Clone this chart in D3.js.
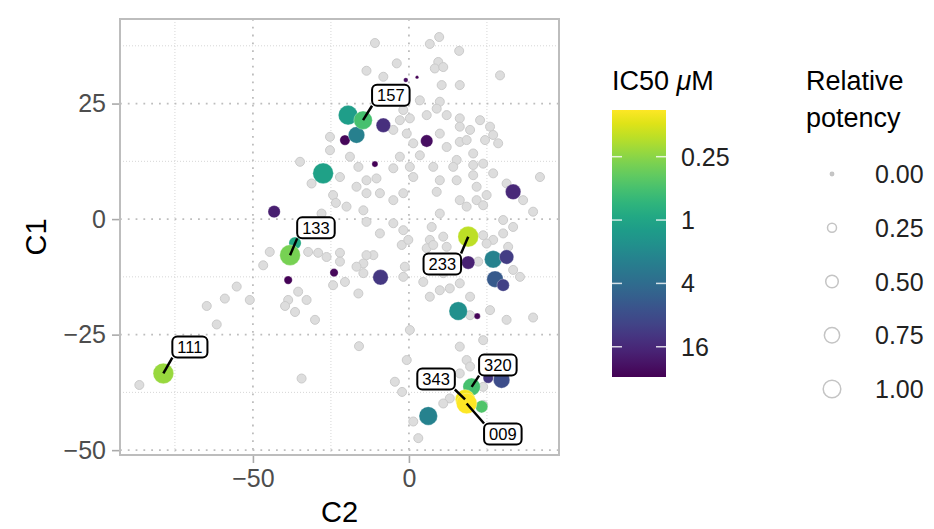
<!DOCTYPE html>
<meta charset="utf-8">
<style>
  body { margin: 0; background: #fff; }
  svg { font-family: "Liberation Sans", Arial, sans-serif; }
</style>
<body>
<script src="https://cdn.jsdelivr.net/npm/d3@7"></script>
<script>
const width = 934, height = 529;
const panel = {left: 120, right: 559, top: 19, bottom: 455};

// compounds without IC50 (drawn grey): C2 / C1
const greyC2 = [-10.9, 9.7, 6.7, 16.1, -3.9, -13.6, 9.4, 8.3, 11.0, -8.2, 10.5, 16.3, 29.2, 3.5, 9.9, 8.9, -1.8, 0.3, -2.9, 5.7,
  12.1, 16.3, 16.3, 22.8, 19.6, 26.0, 27.0, 24.4, 28.6, -5.0, -0.7, 1.4, 9.9, 12.1, 16.3, 18.5, 20.6, 15.3, 3.5, 0.3,
  -2.9, -5.0, 7.8, 14.2, 20.6, 23.8, 27.0, 1.4, 9.9, 15.3, 20.6, 21.7, 8.9, 16.3, 18.5, 21.7, 23.8, 24.9, 42.0, 31.3,
  36.6, 39.8, -9.3, -5.0, -1.8, -10.4, -13.6, -13.6, -5.0, -1.8, -9.3, 9.9, 7.3, 6.7, 11.0, 30.2, 30.2, 33.4, 23.8, 27.0,
  -14.6, -25.3, -25.3, -34.9, -18.9, -31.2, -22.1, -16.2, -16.8, -24.3, -23.4, -20.0, -28.0, -13.6, -11.4, -14.6, -2.3, -0.2, 5.7, 7.8,
  12.1, 24.9, 31.8, 22.2, 35.6, 33.4, 11.0, 4.6, 9.9, 6.7, -1.3, -1.8, 13.1, 19.6, 16.3, 26.0, 31.3, 39.8, 19.6, 23.8,
  16.3, 18.5, 19.6, -0.7, -4.5, 16.3, 13.1, 11.0, 1.4, 3.0, 23.8, 23.8, -16.0, -44.6, -46.7, -32.3, -29.1, -26.4, -22.1, -22.1,
  -20.5, -24.3, -16.8, -14.6, -13.6, -16.2, -55.2, -59.0, -64.8, -61.6, -51.0, -35.5, -32.8, -38.7, -39.7, -36.5, -30.1, -34.4, -86.4, 0.3,
  -2.2];
const greyC1 = [38.1, 39.4, 37.9, 36.4, 33.7, 32.1, 34.0, 32.6, 32.9, 30.8, 29.0, 29.0, 31.1, 25.7, 25.4, 23.9, 23.6, 21.8, 21.4, 22.5,
  22.5, 21.8, 20.0, 21.4, 19.3, 20.0, 18.2, 17.1, 16.4, 19.3, 18.5, 16.4, 18.5, 15.6, 16.7, 17.1, 14.2, 12.8, 13.8, 11.3,
  13.5, 11.0, 11.3, 11.3, 11.7, 12.0, 9.9, 9.1, 8.4, 8.4, 9.5, 7.0, 5.9, 4.1, 2.7, 4.1, 3.0, 5.2, 9.1, 7.7,
  4.1, 1.6, 5.6, 4.1, 5.6, 8.8, 8.4, 5.6, -0.9, -2.4, -3.1, 1.2, -1.7, -4.5, -3.8, -0.2, -3.1, -1.7, -3.5, -4.5,
  1.9, 17.8, 14.9, 12.4, 13.5, 7.7, 9.1, 11.3, 7.0, 5.2, 3.5, 2.7, 1.2, -0.6, -7.8, -9.6, -5.6, -4.5, -6.3, -5.6,
  -6.0, -5.3, -6.0, -9.2, -12.5, -11.0, -11.7, -13.6, -15.4, -16.8, -10.3, -12.5, -15.0, -16.8, -13.9, -19.7, -21.8, -21.3, -20.8, -26.2,
  -27.6, -30.5, -31.9, -30.5, -35.2, -33.4, -38.8, -39.9, -43.8, -47.4, -36.3, -40.2, -27.5, -7.1, -10.0, -7.1, -7.3, -8.2, -7.3, -9.2,
  -13.6, -14.3, -10.3, -11.7, -7.8, -16.1, -14.6, -17.2, -18.8, -22.8, -17.5, -15.7, -17.5, -17.5, -18.8, -20.1, -21.8, -34.5, -35.9, -24.0,
  -37.4];

// compounds with measured IC50
const hitLabel = ["", "", "", "", "", "", "", "", "", "", "", "", "", "", "", "", "", "", "", "", "", "", "", "", "", "",
  "157", "133", "111", "233", "320", "343", "009"];
const hitC2 = [-20.5, -19.5, -16.8, -8.2, 5.7, -10.9, -1.0, 2.6, -27.5, -43.2, 33.4, -36.5, -38.7, -24.0, 19.0, 27.0, 31.3, 27.6, 30.2, -9.1, 15.8, 21.9, 29.7, 25.4, 23.3, 6.2,
  -14.7, -38.1, -78.7, 19.0, 20.1, 18.0, 18.5];
const hitC1 = [17.1, 22.5, 18.2, 20.3, 16.9, 11.9, 30.1, 30.7, 9.9, 1.6, 5.9, -5.2, -13.2, -11.6, -9.4, -8.7, -8.2, -13.0, -14.3, -12.6, -19.9, -21.0, -34.8, -34.4, -40.6, -42.6,
  21.4, -7.8, -33.4, -3.8, -36.3, -39.0, -39.9];
const hitIC50 = [28, 1.2, 2.5, 14, 25, 30, 25, 31, 1.1, 19, 16, 0.9, 30, 28, 18, 2.3, 11, 6, 10, 12, 1.7, 30, 8, 12, 0.45, 2.3,
  0.5, 0.3, 0.22, 0.16, 0.5, 0.1, 0.09];
const hitPotency = [0.16, 0.88, 0.58, 0.41, 0.27, 0.025, 0.005, 0, 1.0, 0.27, 0.49, 0.27, 0.08, 0.08, 0.33, 0.67, 0.41, 0.58, 0.27, 0.49, 0.77, 0.025, 0.58, 0.16, 0.27, 0.77,
  0.77, 1.0, 1.0, 1.0, 0.67, 0.88, 1.0];

// label box centres (C2 / C1)
const labelText = ["157", "133", "111", "233", "320", "343", "009"];
const labelC2 = [-5.8, -29.8, -70.2, 10.7, 28.5, 8.7, 30.1];
const labelC1 = [26.8, -1.9, -27.7, -9.7, -31.6, -34.6, -46.5];

const xTicks = [-50, 0];
const xMinor = [-75, -25, 25];
const yTicks = [-50, -25, 0, 25];
const yMinor = [-37.5, -12.5, 12.5, 37.5];
const colorTicks = [0.25, 1, 4, 16];
const colorTickLabels = ["0.25", "1", "4", "16"];
const sizeBreaks = [0, 0.25, 0.5, 0.75, 1];
const sizeLabels = ["0.00", "0.25", "0.50", "0.75", "1.00"];

const svg = d3.select("body").append("svg")
  .attr("width", width)
  .attr("height", height);

const x = d3.scaleLinear().domain([-92.6, 48.1]).range([panel.left, panel.right]);
const y = d3.scaleLinear().domain([-51.05, 43.3]).range([panel.bottom, panel.top]);
const color = d3.scaleSequentialLog(t => d3.interpolateViridis(1 - t)).domain([0.09, 31]);
const size = d3.scaleSqrt().domain([0, 1]).range([1.7, 10.3]);

// grid
const grid = svg.append("g");
grid.selectAll(".xmin").data(xMinor).enter().append("line")
  .attr("x1", d => x(d)).attr("x2", d => x(d))
  .attr("y1", panel.top).attr("y2", panel.bottom)
  .attr("stroke", "#d6d6d6").attr("stroke-width", 1).attr("stroke-dasharray", "1,2");
grid.selectAll(".ymin").data(yMinor).enter().append("line")
  .attr("y1", d => y(d)).attr("y2", d => y(d))
  .attr("x1", panel.left).attr("x2", panel.right)
  .attr("stroke", "#d6d6d6").attr("stroke-width", 1).attr("stroke-dasharray", "1,2");
grid.selectAll(".xmaj").data(xTicks).enter().append("line")
  .attr("x1", d => x(d)).attr("x2", d => x(d))
  .attr("y1", panel.top).attr("y2", panel.bottom)
  .attr("stroke", "#bdbdbd").attr("stroke-width", 1.8).attr("stroke-dasharray", "1.8,6");
grid.selectAll(".ymaj").data(yTicks).enter().append("line")
  .attr("y1", d => y(d)).attr("y2", d => y(d))
  .attr("x1", panel.left).attr("x2", panel.right)
  .attr("stroke", "#bdbdbd").attr("stroke-width", 1.8).attr("stroke-dasharray", "1.8,6");

// points
svg.append("g").selectAll("circle")
  .data(greyC2.map((d, i) => [d, greyC1[i]]))
  .enter().append("circle")
  .attr("cx", d => x(d[0]))
  .attr("cy", d => y(d[1]))
  .attr("r", 4.5)
  .attr("fill", "#dddddd")
  .attr("stroke", "#cbcbcb")
  .attr("stroke-width", 1);

const hits = hitC2.map((d, i) => ({c2: d, c1: hitC1[i], ic50: hitIC50[i], pot: hitPotency[i], label: hitLabel[i]}));

svg.append("g").selectAll("circle")
  .data(hits)
  .enter().append("circle")
  .attr("cx", d => x(d.c2))
  .attr("cy", d => y(d.c1))
  .attr("r", d => size(d.pot))
  .attr("fill", d => color(d.ic50))
  .attr("stroke", "#fff")
  .attr("stroke-opacity", 0.5)
  .attr("stroke-width", 0.6);

// labels with segments
const lab = svg.append("g");
labelText.forEach((t, i) => {
  const p = hits.find(h => h.label === t);
  const cx = x(labelC2[i]), cy = y(labelC1[i]);
  const txt = lab.append("text")
    .attr("x", cx).attr("y", cy)
    .attr("text-anchor", "middle")
    .attr("dy", "0.36em")
    .attr("font-size", 16.5)
    .attr("fill", "#000")
    .text(t);
  const bb = txt.node().getBBox();
  const w = bb.width + 10, h = 21;
  const bx = cx - w / 2, by = cy - h / 2;
  const px = x(p.c2), py = y(p.c1);
  const ex = Math.max(bx, Math.min(px, bx + w));
  const ey = Math.max(by, Math.min(py, by + h));
  lab.insert("line", "text")
    .attr("x1", px).attr("y1", py)
    .attr("x2", ex).attr("y2", ey)
    .attr("stroke", "#000").attr("stroke-width", 2.5);
  lab.insert("rect", "text")
    .attr("x", bx).attr("y", by)
    .attr("width", w).attr("height", h)
    .attr("rx", 5)
    .attr("fill", "#fff")
    .attr("stroke", "#000")
    .attr("stroke-width", 2);
});

// panel border
svg.append("rect")
  .attr("x", panel.left).attr("y", panel.top)
  .attr("width", panel.right - panel.left)
  .attr("height", panel.bottom - panel.top)
  .attr("fill", "none")
  .attr("stroke", "#bdbdbd")
  .attr("stroke-width", 2);

// axes
const xAxis = svg.append("g")
  .attr("transform", "translate(0," + (panel.bottom + 1) + ")")
  .call(d3.axisBottom(x).tickValues(xTicks).tickSize(7).tickPadding(6).tickFormat(d => d < 0 ? "\u2212" + Math.abs(d) : d));
const yAxis = svg.append("g")
  .attr("transform", "translate(" + (panel.left - 1) + ",0)")
  .call(d3.axisLeft(y).tickValues(yTicks).tickSize(7).tickPadding(6).tickFormat(d => d < 0 ? "\u2212" + Math.abs(d) : d));
[xAxis, yAxis].forEach(a => {
  a.select(".domain").remove();
  a.selectAll("line").attr("stroke", "#aaa").attr("stroke-width", 1.6);
  a.selectAll("text").attr("font-size", 25).attr("fill", "#4d4d4d")
    .attr("font-family", "Liberation Sans, Arial, sans-serif");
});

svg.append("text")
  .attr("x", (panel.left + panel.right) / 2)
  .attr("y", 522)
  .attr("text-anchor", "middle")
  .attr("font-size", 29)
  .text("C2");
svg.append("text")
  .attr("transform", "translate(46," + (panel.top + panel.bottom) / 2 + ") rotate(-90)")
  .attr("text-anchor", "middle")
  .attr("font-size", 29)
  .text("C1");

// colour legend
const cb = {x: 612, w: 54, top: 110, bottom: 377};
const cy = d3.scaleLog().domain([0.09, 31]).range([cb.top, cb.bottom]);
const grad = svg.append("defs").append("linearGradient")
  .attr("id", "vir").attr("x1", 0).attr("y1", 0).attr("x2", 0).attr("y2", 1);
d3.range(0, 1.0001, 0.05).forEach(t => {
  grad.append("stop").attr("offset", t).attr("stop-color", color(cy.invert(cb.top + t * (cb.bottom - cb.top))));
});
svg.append("text")
  .attr("x", 612).attr("y", 90)
  .attr("font-size", 27)
  .html('IC50 <tspan font-style="italic">\u03bc</tspan>M');
svg.append("rect")
  .attr("x", cb.x).attr("y", cb.top)
  .attr("width", cb.w).attr("height", cb.bottom - cb.top)
  .attr("fill", "url(#vir)");
const ct = svg.append("g").selectAll("g").data(colorTicks).enter().append("g");
ct.append("line")
  .attr("x1", cb.x).attr("x2", cb.x + 10)
  .attr("y1", d => cy(d)).attr("y2", d => cy(d))
  .attr("stroke", "#fff").attr("stroke-width", 1.5).attr("stroke-opacity", 0.8);
ct.append("line")
  .attr("x1", cb.x + cb.w - 10).attr("x2", cb.x + cb.w)
  .attr("y1", d => cy(d)).attr("y2", d => cy(d))
  .attr("stroke", "#fff").attr("stroke-width", 1.5).attr("stroke-opacity", 0.8);
ct.append("text")
  .attr("x", cb.x + cb.w + 15)
  .attr("y", d => cy(d))
  .attr("dy", "0.36em")
  .attr("font-size", 25)
  .attr("fill", "#222")
  .text((d, i) => colorTickLabels[i]);

// size legend
svg.append("text")
  .attr("x", 806).attr("y", 90)
  .attr("font-size", 27)
  .text("Relative");
svg.append("text")
  .attr("x", 806).attr("y", 127)
  .attr("font-size", 27)
  .text("potency");
const sy = d3.scaleLinear().domain([0, 1]).range([174, 389]);
const sl = svg.append("g").selectAll("g").data(sizeBreaks).enter().append("g");
sl.append("circle")
  .attr("cx", 832)
  .attr("cy", d => sy(d))
  .attr("r", d => d === 0 ? size(d) : size(d) - 1.5)
  .attr("fill", d => d === 0 ? "#c8c8c8" : "none")
  .attr("stroke", "#c4c4c4")
  .attr("stroke-width", 1.5);
sl.append("text")
  .attr("x", 875)
  .attr("y", d => sy(d))
  .attr("dy", "0.36em")
  .attr("font-size", 25)
  .attr("fill", "#222")
  .text((d, i) => sizeLabels[i]);
</script>
</body>
</html>
